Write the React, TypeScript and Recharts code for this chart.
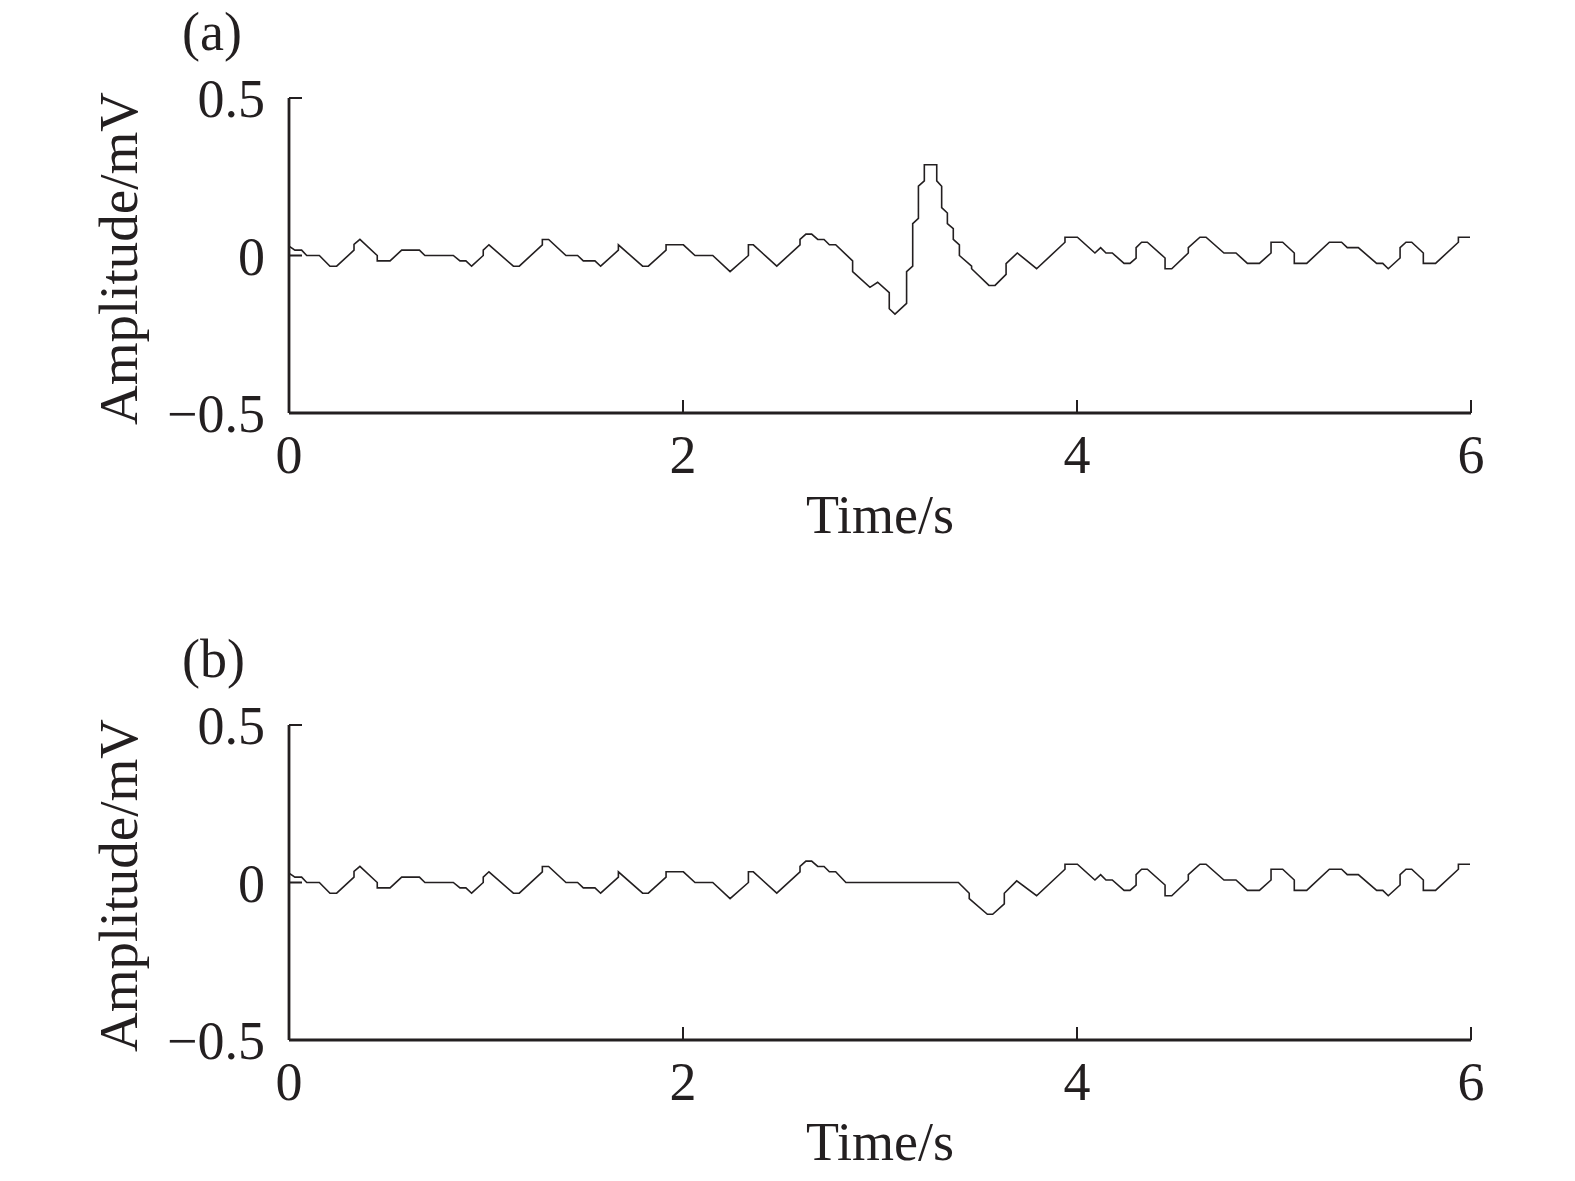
import React from 'react';
import { LineChart, Line, XAxis, YAxis } from 'recharts';

// ECG segment, time in s / amplitude in mV
const timeTicks = [0, 2, 4, 6];
const ampTicks = [-0.5, 0, 0.5];

// beginning of the record, identical in (a) and (b)
const leadIn: [number, number][] = [
    [0, 0.03], [0.03, 0.017], [0.064, 0.017], [0.09, 0], [0.154, 0], [0.208, -0.034], [0.242, -0.034],
    [0.33, 0.017], [0.33, 0.035], [0.36, 0.051], [0.448, 0], [0.448, -0.017], [0.513, -0.017],
    [0.572, 0.017], [0.662, 0.017], [0.69, 0], [0.834, 0], [0.868, -0.017], [0.898, -0.017],
    [0.927, -0.034], [0.986, 0], [0.986, 0.017], [1.015, 0.034], [1.139, -0.034], [1.169, -0.034],
    [1.286, 0.034], [1.286, 0.051], [1.318, 0.051], [1.406, 0], [1.465, 0], [1.494, -0.017],
    [1.553, -0.017], [1.582, -0.034], [1.672, 0.017], [1.672, 0.034], [1.795, -0.034], [1.824, -0.034],
    [1.914, 0.017], [1.914, 0.034], [2.002, 0.034], [2.061, 0], [2.151, 0], [2.239, -0.051],
    [2.332, 0], [2.332, 0.034], [2.357, 0.034], [2.476, -0.034], [2.594, 0.034], [2.594, 0.051],
    [2.624, 0.068], [2.653, 0.068], [2.684, 0.051], [2.716, 0.051], [2.743, 0.034], [2.775, 0.034],
];

// middle part with the beat (a)
const beatRaw: [number, number][] = [
    [2.861, -0.017], [2.861, -0.051], [2.949, -0.101], [2.988, -0.085], [3.047, -0.118], [3.047, -0.169],
    [3.076, -0.186], [3.135, -0.152], [3.135, -0.051], [3.166, -0.034], [3.166, 0.101], [3.195, 0.118],
    [3.195, 0.22], [3.225, 0.237], [3.225, 0.288], [3.288, 0.288], [3.288, 0.237], [3.313, 0.22],
    [3.313, 0.152], [3.342, 0.135], [3.342, 0.101], [3.372, 0.085], [3.372, 0.051], [3.403, 0.034],
    [3.403, 0], [3.465, -0.034], [3.465, -0.042], [3.553, -0.095], [3.584, -0.095], [3.64, -0.06],
    [3.64, -0.026], [3.697, 0.008],
];

// middle part after removal (b)
const beatRemoved: [number, number][] = [
    [2.827, 0], [3.398, 0], [3.453, -0.034], [3.453, -0.051], [3.545, -0.101], [3.572, -0.101],
    [3.631, -0.068], [3.631, -0.034], [3.694, 0.005],
];

// end of the record, identical in (a) and (b)
const tail: [number, number][] = [
    [3.795, -0.042], [3.939, 0.042], [3.939, 0.058], [4.002, 0.058], [4.091, 0.008], [4.12, 0.025],
    [4.147, 0.008], [4.179, 0.008], [4.239, -0.025], [4.269, -0.025], [4.3, -0.008], [4.3, 0.025],
    [4.328, 0.042], [4.357, 0.042], [4.447, -0.008], [4.447, -0.042], [4.481, -0.042], [4.565, 0.008],
    [4.565, 0.025], [4.624, 0.058], [4.655, 0.058], [4.746, 0.008], [4.807, 0.008], [4.865, -0.025],
    [4.926, -0.025], [4.985, 0.008], [4.985, 0.042], [5.044, 0.042], [5.103, 0.008], [5.103, -0.025],
    [5.166, -0.025], [5.281, 0.042], [5.343, 0.042], [5.372, 0.025], [5.428, 0.025], [5.521, -0.025],
    [5.552, -0.025], [5.58, -0.042], [5.64, -0.008], [5.64, 0.025], [5.67, 0.042], [5.699, 0.042],
    [5.758, 0.008], [5.758, -0.025], [5.82, -0.025], [5.936, 0.042], [5.936, 0.058], [5.995, 0.058],
];

const toRows = (pts: [number, number][]) => pts.map(([t, v]) => ({ t, v }));
const rawRows = toRows([...leadIn, ...beatRaw, ...tail]);
const filteredRows = toRows([...leadIn, ...beatRemoved, ...tail]);

const INK = '#231f20';
const FONT = '"Liberation Serif", "Times New Roman", Times, serif';
const FS = 54;

const fmtAmp = (v: number) => (v < 0 ? `\u2212${Math.abs(v)}` : String(v));

function yTitle(props: any) {
    const vb = props.viewBox || { x: 89, y: 98, width: 200, height: 315 };
    const cx = vb.x + 48;
    const cy = vb.y + vb.height / 2 + 3;
    return (
        <text x={cx} y={cy} transform={`rotate(-90, ${cx}, ${cy})`} textAnchor="middle"
            fill={INK} fontSize={FS + 1} fontFamily={FONT}>
            Amplitude/mV
        </text>
    );
}

function xTitle(props: any) {
    const vb = props.viewBox || { x: 289, y: 413, width: 1182, height: 120 };
    return (
        <text x={vb.x + vb.width / 2} y={vb.y + 120} textAnchor="middle" fill={INK} fontSize={FS} fontFamily={FONT}>
            Time/s
        </text>
    );
}

function Panel({ rows, tag, top, height, margin }: any) {
    return (
        <div style={{ position: 'absolute', left: 0, top, width: 1575, height }}>
            <LineChart width={1575} height={height} data={rows} margin={margin}>
                <XAxis
                    type="number"
                    dataKey="t"
                    domain={[0, 6]}
                    ticks={timeTicks}
                    interval={0}
                    height={120}
                    tickSize={-13}
                    tickMargin={35}
                    axisLine={{ stroke: INK, strokeWidth: 2.8 }}
                    tickLine={{ stroke: INK, strokeWidth: 2 }}
                    tick={{ fill: INK, fontSize: FS, fontFamily: FONT }}
                    label={xTitle}
                />
                <YAxis
                    type="number"
                    domain={[-0.5, 0.5]}
                    ticks={ampTicks}
                    interval={0}
                    width={200}
                    tickSize={-13}
                    tickMargin={37}
                    tickFormatter={fmtAmp}
                    axisLine={{ stroke: INK, strokeWidth: 2.8 }}
                    tickLine={{ stroke: INK, strokeWidth: 2 }}
                    tick={{ fill: INK, fontSize: FS, fontFamily: FONT }}
                    label={yTitle}
                />
                <Line type="linear" dataKey="v" stroke={INK} strokeWidth={1.6} dot={false} isAnimationActive={false} />
            </LineChart>
            <svg width={300} height={120} style={{ position: 'absolute', left: 0, top: 0, pointerEvents: 'none' }}>
                <text x={182} y={margin.top - 48} fill={INK} fontSize={FS} fontFamily={FONT}>{tag}</text>
            </svg>
        </div>
    );
}

export default function App() {
    return (
        <div style={{ position: 'absolute', left: 0, top: 0, width: 1575, height: 1181, background: '#fff' }}>
            <Panel rows={rawRows} tag="(a)" top={0} height={600}
                margin={{ top: 98, right: 104, bottom: 67, left: 89 }} />
            <Panel rows={filteredRows} tag="(b)" top={600} height={581}
                margin={{ top: 125, right: 104, bottom: 21, left: 89 }} />
        </div>
    );
}
